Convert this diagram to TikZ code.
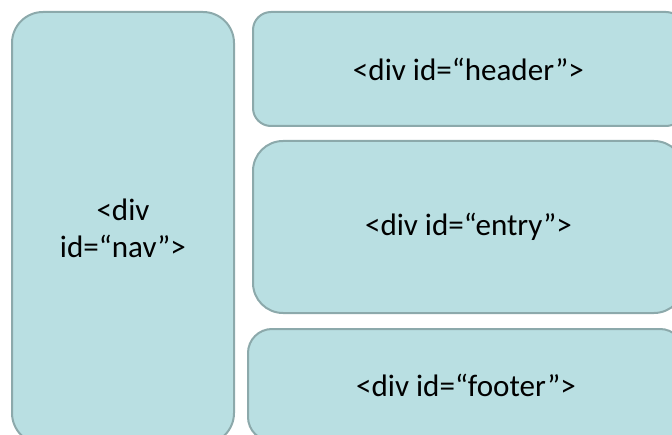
\documentclass[tikz,border=0pt]{standalone}
\usepackage{fontspec}
\setmainfont{Carlito}

\definecolor{divfill}{HTML}{B9DFE2}
\definecolor{divline}{HTML}{8CA9AB}

\tikzset{divbox/.style={draw=divline,fill=divfill,line width=1.5pt,
    font=\fontsize{23.3}{27.8}\selectfont,align=center,inner sep=0pt}}

\begin{document}
\begin{tikzpicture}[x=0.75pt,y=-0.75pt]
\useasboundingbox (0,0) rectangle (672,435);
\clip (0,0) rectangle (672,435);

\def\boxright{684}

\node[divbox,rounded corners=31*0.75pt,minimum width=222*0.75pt,minimum height=432*0.75pt]
    (nav) at (123,228) {<div\\id=“nav”>};

\node[divbox,rounded corners=18*0.75pt,minimum width=431*0.75pt,minimum height=114*0.75pt]
    (header) at (468.5,69) {<div id=“header”>};

\node[divbox,rounded corners=30*0.75pt,minimum width=431*0.75pt,minimum height=172*0.75pt]
    (entry) at (468.5,227) {<div id=“entry”>};

\node[divbox,rounded corners=24*0.75pt,minimum width=436*0.75pt,minimum height=112*0.75pt]
    (footer) at (466,385) {<div id=“footer”>};

\end{tikzpicture}
\end{document}
